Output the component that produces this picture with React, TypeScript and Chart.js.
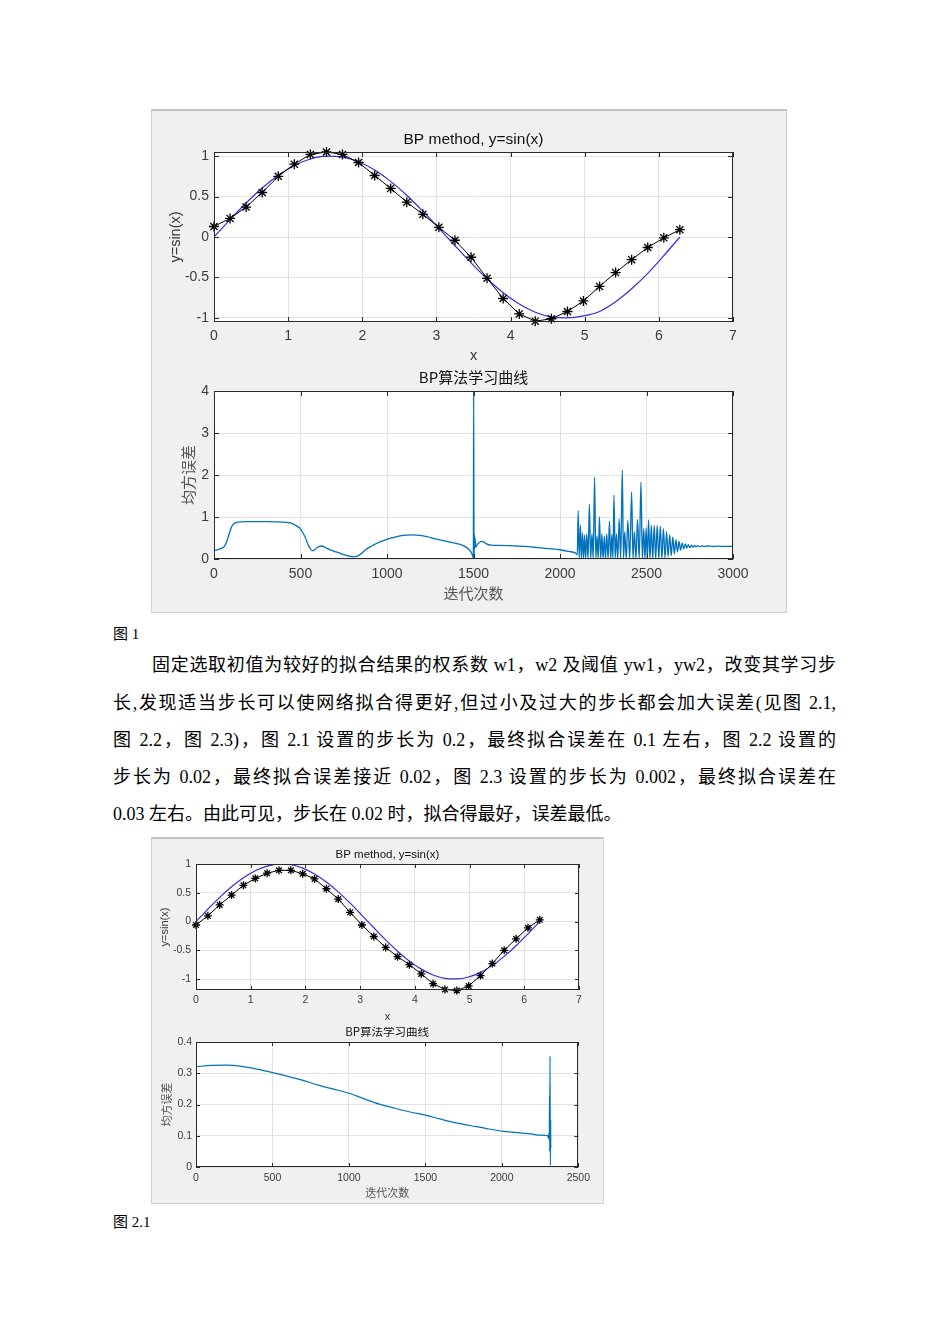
import React, { useEffect, useRef } from "react";
import { Chart, registerables } from "chart.js";
Chart.register(...registerables);

// ---------- data ----------
const sampleX = [0, 0.217, 0.433, 0.65, 0.867, 1.083, 1.3, 1.517, 1.733, 1.95, 2.167, 2.383, 2.6, 2.817, 3.033, 3.25, 3.467, 3.683, 3.9, 4.117, 4.333, 4.55, 4.767, 4.983, 5.2, 5.417, 5.633, 5.85, 6.067, 6.283];

const sineFig1 = [0, 0.215, 0.42, 0.605, 0.762, 0.884, 0.964, 0.998, 0.987, 0.929, 0.827, 0.687, 0.516, 0.319, 0.108, -0.108, -0.319, -0.516, -0.688, -0.827, -0.929, -0.987, -0.998, -0.975, -0.92, -0.8, -0.64, -0.45, -0.23, 0];
const netFig1 = [0.13, 0.23, 0.37, 0.55, 0.75, 0.9, 1.02, 1.05, 1.02, 0.92, 0.76, 0.6, 0.43, 0.28, 0.12, -0.04, -0.25, -0.51, -0.76, -0.95, -1.04, -1.01, -0.92, -0.79, -0.61, -0.44, -0.28, -0.13, -0.01, 0.09];

const sineFig2 = [0, 0.215, 0.42, 0.605, 0.762, 0.884, 0.964, 0.998, 0.987, 0.929, 0.827, 0.687, 0.516, 0.319, 0.108, -0.108, -0.319, -0.516, -0.688, -0.827, -0.929, -0.987, -0.998, -0.964, -0.884, -0.762, -0.605, -0.42, -0.215, 0];
const netFig2 = [-0.06, 0.1, 0.29, 0.46, 0.63, 0.75, 0.84, 0.89, 0.89, 0.83, 0.74, 0.57, 0.39, 0.16, -0.06, -0.26, -0.45, -0.61, -0.75, -0.91, -1.08, -1.18, -1.2, -1.12, -0.94, -0.73, -0.5, -0.3, -0.11, 0.03];

const iterFig1 = [0, 20, 44, 60, 73, 88, 102, 115, 131, 160, 189, 250, 305, 360, 420, 450, 468, 485, 497, 510, 526, 545, 556, 565, 575, 584, 595, 603, 622, 642, 665, 690, 720, 747, 770, 786, 805, 825, 845, 863, 880, 902, 930, 960, 1000, 1036, 1075, 1114, 1150, 1191, 1230, 1268, 1300, 1345, 1380, 1422, 1450, 1470, 1485, 1495, 1499, 1501, 1503, 1505, 1507, 1509, 1512, 1518, 1530, 1545, 1560, 1575, 1600, 1650, 1700, 1750, 1800, 1850, 1900, 1950, 2000, 2050, 2090,
  2100, 2105, 2111, 2118, 2124, 2130, 2136, 2142, 2148, 2155, 2162, 2170, 2177, 2185, 2192, 2200, 2207, 2214, 2221, 2228, 2235, 2242, 2249, 2256, 2263, 2270, 2278, 2286, 2293, 2300, 2306, 2312, 2319, 2326, 2334, 2342, 2351, 2360, 2367, 2374, 2383, 2392, 2403, 2414, 2422, 2430, 2439, 2448, 2458, 2468, 2476, 2484, 2491, 2498, 2505, 2512, 2520, 2528, 2536, 2545, 2553, 2562, 2571, 2580, 2589, 2598, 2607, 2616, 2625, 2634, 2643, 2652, 2661, 2670, 2679, 2688, 2697, 2706, 2715, 2724, 2733, 2742, 2751, 2760, 2769, 2778, 2787, 2796, 2805, 2820, 2840, 2860, 2880, 2910, 2950, 3000];
const errFig1 = [0.21, 0.22, 0.26, 0.3, 0.41, 0.6, 0.77, 0.84, 0.87, 0.885, 0.89, 0.89, 0.89, 0.885, 0.87, 0.85, 0.81, 0.77, 0.73, 0.65, 0.53, 0.33, 0.25, 0.21, 0.2, 0.23, 0.27, 0.29, 0.31, 0.28, 0.23, 0.19, 0.15, 0.11, 0.08, 0.06, 0.05, 0.06, 0.11, 0.17, 0.23, 0.29, 0.35, 0.41, 0.47, 0.51, 0.55, 0.57, 0.575, 0.56, 0.53, 0.49, 0.46, 0.42, 0.39, 0.35, 0.3, 0.24, 0.17, 0.08, 0.02, 4.0, 0.02, 0.6, 0.25, 0.5, 0.28, 0.32, 0.38, 0.42, 0.4, 0.36, 0.33, 0.325, 0.32, 0.31, 0.3, 0.28, 0.26, 0.24, 0.22, 0.18, 0.14,
  0.1, 1.15, 0, 0.8, 0, 0.62, 0, 0.57, 0, 0.6, 0, 1.3, 0, 0.6, 0, 1.95, 0, 0.55, 0, 1.0, 0, 0.6, 0, 0.55, 0, 0.6, 0, 0.9, 0, 0.58, 0, 1.52, 0, 0.6, 0, 0.95, 0, 2.12, 0, 0.65, 0, 0.92, 0, 1.6, 0, 0.65, 0, 0.94, 0, 1.83, 0, 0.72, 0, 0.74, 0, 0.93, 0, 0.8, 0, 0.8, 0, 0.8, 0, 0.78, 0.01, 0.72, 0.02, 0.65, 0.05, 0.58, 0.08, 0.52, 0.12, 0.46, 0.17, 0.42, 0.21, 0.38, 0.24, 0.36, 0.26, 0.34, 0.27, 0.33, 0.28, 0.32, 0.29, 0.32, 0.295, 0.31, 0.3, 0.31, 0.3, 0.305, 0.3, 0.3];

const iterFig2 = [0, 100, 200, 300, 400, 500, 600, 700, 800, 900, 1000, 1100, 1200, 1300, 1400, 1500, 1600, 1700, 1800, 1900, 2000, 2100, 2200, 2250, 2300, 2304, 2307, 2310, 2312, 2313, 2315, 2317, 2319, 2320];
const errFig2 = [0.321, 0.325, 0.326, 0.322, 0.313, 0.302, 0.29, 0.277, 0.262, 0.249, 0.236, 0.218, 0.201, 0.188, 0.176, 0.166, 0.153, 0.141, 0.132, 0.123, 0.115, 0.11, 0.105, 0.102, 0.1, 0.093, 0.108, 0.085, 0.23, 0.05, 0.355, 0.006, 0.15, 0.06];

const paraLines = [
  "固定选取初值为较好的拟合结果的权系数 w1，w2 及阈值 yw1，yw2，改变其学习步",
  "长,发现适当步长可以使网络拟合得更好,但过小及过大的步长都会加大误差(见图 2.1,",
  "图 2.2，图 2.3)，图 2.1 设置的步长为 0.2，最终拟合误差在 0.1 左右，图 2.2 设置的",
  "步长为 0.02，最终拟合误差接近 0.02，图 2.3 设置的步长为 0.002，最终拟合误差在",
  "0.03 左右。由此可见，步长在 0.02 时，拟合得最好，误差最低。",
];

// ---------- helpers ----------
const pts = (xs: number[], ys: number[]) => xs.map((x, i) => ({ x, y: ys[i] }));
const LAT = '"Liberation Sans", Arial, "Noto Sans CJK SC", sans-serif';
const CJK = '"Noto Sans CJK SC", "Liberation Sans", sans-serif';
const TXT = '"Liberation Serif", "Noto Sans CJK SC", serif';

const matlabAxes = {
  id: "matlabAxes",
  beforeDraw(chart: any) {
    const { ctx, chartArea: a } = chart;
    ctx.save();
    ctx.fillStyle = "#ffffff";
    ctx.fillRect(a.left, a.top, a.right - a.left, a.bottom - a.top);
    ctx.restore();
  },
  afterDraw(chart: any, _args: any, opts: any) {
    const { ctx, chartArea: a, scales } = chart;
    ctx.save();
    ctx.strokeStyle = "#2a2a2a";
    ctx.lineWidth = 1;
    ctx.strokeRect(Math.round(a.left) + 0.5, Math.round(a.top) + 0.5, Math.round(a.right - a.left) - 1, Math.round(a.bottom - a.top) - 1);
    const L = opts.tickLen || 5;
    ctx.beginPath();
    scales.x.ticks.forEach((t: any) => {
      const px = Math.round(scales.x.getPixelForValue(t.value)) + 0.5;
      ctx.moveTo(px, a.bottom); ctx.lineTo(px, a.bottom - L);
      ctx.moveTo(px, a.top); ctx.lineTo(px, a.top + L);
    });
    scales.y.ticks.forEach((t: any) => {
      const py = Math.round(scales.y.getPixelForValue(t.value)) + 0.5;
      ctx.moveTo(a.left, py); ctx.lineTo(a.left + L, py);
      ctx.moveTo(a.right, py); ctx.lineTo(a.right - L, py);
    });
    ctx.stroke();
    ctx.fillStyle = opts.titleColor || "#111";
    ctx.font = opts.titleFont;
    ctx.textAlign = "center";
    ctx.textBaseline = "middle";
    ctx.fillText(opts.title, (a.left + a.right) / 2, a.top - opts.titleGap);
    ctx.restore();
  },
};

type Rect = { left: number; top: number; width: number; height: number };
type Area = { left: number; top: number; right: number; bottom: number };
type AxSpec = {
  rect: Rect; area: Area;
  xMin: number; xMax: number; xStep: number;
  yMin: number; yMax: number; yStep: number;
  datasets: any[];
  title: string; titleFont: string; titleGap: number;
  xTitle: string; yTitle: string; axTitleFamily: string; axTitleSize: number; axTitleColor: string;
  tickSize: number; xTickPad: number; yTickPad: number;
  xTitlePad: number; yTitlePad: number; tickLen: number;
};

function Axes({ spec }: { spec: AxSpec }) {
  const ref = useRef<HTMLCanvasElement>(null);
  useEffect(() => {
    const s = spec;
    const padTop = s.area.top - s.rect.top;
    const padRight = s.rect.left + s.rect.width - s.area.right;
    const yW = s.area.left - s.rect.left;
    const xH = s.rect.top + s.rect.height - s.area.bottom;
    const fmt = (v: any) => String(Math.round(Number(v) * 1000) / 1000);
    const chart = new Chart(ref.current as HTMLCanvasElement, {
      type: "line",
      data: { datasets: s.datasets },
      options: {
        responsive: false,
        animation: false,
        devicePixelRatio: 1,
        layout: { padding: { top: padTop, right: padRight, left: 0, bottom: 0 } },
        plugins: {
          legend: { display: false },
          tooltip: { enabled: false },
          title: { display: false },
          matlabAxes: { title: s.title, titleFont: s.titleFont, titleGap: s.titleGap, tickLen: s.tickLen },
        } as any,
        scales: {
          x: {
            type: "linear", min: s.xMin, max: s.xMax,
            afterFit: (sc: any) => { sc.height = xH; },
            ticks: { stepSize: s.xStep, autoSkip: false, maxRotation: 0, includeBounds: false, padding: s.xTickPad, color: "#3c3c3c", font: { family: LAT, size: s.tickSize }, callback: fmt },
            grid: { color: "#e2e2e2", drawTicks: false },
            border: { display: false },
            title: { display: true, text: s.xTitle, color: s.axTitleColor, font: { family: s.axTitleFamily, size: s.axTitleSize }, padding: { top: 0, bottom: s.xTitlePad } },
          },
          y: {
            type: "linear", min: s.yMin, max: s.yMax,
            afterFit: (sc: any) => { sc.width = yW; },
            ticks: { stepSize: s.yStep, autoSkip: false, includeBounds: false, padding: s.yTickPad, color: "#3c3c3c", font: { family: LAT, size: s.tickSize }, callback: fmt },
            grid: { color: "#e2e2e2", drawTicks: false },
            border: { display: false },
            title: { display: true, text: s.yTitle, color: s.axTitleColor, font: { family: s.axTitleFamily, size: s.axTitleSize }, padding: { top: s.yTitlePad, bottom: 0 } },
          },
        },
      } as any,
      plugins: [matlabAxes as any],
    });
    return () => chart.destroy();
  }, []);
  const r = spec.rect;
  return (
    <canvas
      ref={ref}
      width={r.width}
      height={r.height}
      style={{ position: "absolute", left: r.left, top: r.top, width: r.width, height: r.height }}
    />
  );
}

const starSet = (ys: number[], radius: number) => ({
  data: pts(sampleX, ys),
  borderColor: "#000000",
  borderWidth: 1,
  pointStyle: "star",
  pointRadius: radius,
  pointBorderColor: "#000000",
  pointBackgroundColor: "#000000",
  pointBorderWidth: 1.3,
  tension: 0,
  clip: false,
});
const sineSet = (ys: number[]) => ({
  data: pts(sampleX, ys),
  borderColor: "#2f2fe0",
  borderWidth: 1.2,
  pointRadius: 0,
  cubicInterpolationMode: "monotone",
});
const errSet = (xs: number[], ys: number[], w: number) => ({
  data: pts(xs, ys),
  borderColor: "#0072BD",
  borderWidth: w,
  pointRadius: 0,
  cubicInterpolationMode: "monotone",
});

const fig1Top: AxSpec = {
  rect: { left: 155, top: 118, width: 625, height: 252 },
  area: { left: 214, top: 152, right: 733, bottom: 322 },
  xMin: 0, xMax: 7, xStep: 1, yMin: -1.05, yMax: 1.05, yStep: 0.5,
  datasets: [starSet(netFig1, 5), sineSet(sineFig1)],
  title: "BP method, y=sin(x)", titleFont: `15.5px ${LAT}`, titleGap: 12,
  xTitle: "x", yTitle: "y=sin(x)", axTitleFamily: LAT, axTitleSize: 14.5, axTitleColor: "#333",
  tickSize: 14, xTickPad: 6, yTickPad: 5, xTitlePad: 5, yTitlePad: 12, tickLen: 5,
};
const fig1Bot: AxSpec = {
  rect: { left: 155, top: 370, width: 625, height: 238 },
  area: { left: 214, top: 391, right: 733, bottom: 559 },
  xMin: 0, xMax: 3000, xStep: 500, yMin: 0, yMax: 4, yStep: 1,
  datasets: [errSet(iterFig1, errFig1, 1.3)],
  title: "BP算法学习曲线", titleFont: `15px ${CJK}`, titleGap: 14,
  xTitle: "迭代次数", yTitle: "均方误差", axTitleFamily: CJK, axTitleSize: 15, axTitleColor: "#555",
  tickSize: 14, xTickPad: 7, yTickPad: 5, xTitlePad: 6, yTitlePad: 24, tickLen: 5,
};
const fig2Top: AxSpec = {
  rect: { left: 155, top: 842, width: 440, height: 185 },
  area: { left: 196, top: 864, right: 579, bottom: 990 },
  xMin: 0, xMax: 7, xStep: 1, yMin: -1.19, yMax: 1, yStep: 0.5,
  datasets: [starSet(netFig2, 4), sineSet(sineFig2)],
  title: "BP method, y=sin(x)", titleFont: `11.5px ${LAT}`, titleGap: 9,
  xTitle: "x", yTitle: "y=sin(x)", axTitleFamily: LAT, axTitleSize: 11, axTitleColor: "#333",
  tickSize: 10.5, xTickPad: 4, yTickPad: 5, xTitlePad: 3.4, yTitlePad: 3, tickLen: 4,
};
const fig2Bot: AxSpec = {
  rect: { left: 155, top: 1027, width: 440, height: 173 },
  area: { left: 196, top: 1042, right: 579, bottom: 1167 },
  xMin: 0, xMax: 2500, xStep: 500, yMin: 0, yMax: 0.4, yStep: 0.1,
  datasets: [errSet(iterFig2, errFig2, 1.2)],
  title: "BP算法学习曲线", titleFont: `11.5px ${CJK}`, titleGap: 10,
  xTitle: "迭代次数", yTitle: "均方误差", axTitleFamily: CJK, axTitleSize: 11, axTitleColor: "#555",
  tickSize: 10.5, xTickPad: 5, yTickPad: 4, xTitlePad: 0.5, yTitlePad: 5, tickLen: 4,
};

const figBox = (left: number, top: number, right: number, bottom: number): React.CSSProperties => ({
  position: "absolute",
  left,
  top,
  width: right - left,
  height: bottom - top,
  boxSizing: "border-box",
  background: "#f0f0f0",
  borderLeft: "1px solid #d2d2d2",
  borderRight: "1px solid #d2d2d2",
  borderBottom: "1px solid #d2d2d2",
  borderTop: "2px solid #c4c4c4",
});

const lineTops = [665, 703, 740, 777, 814];

export default function App() {
  return (
    <div style={{ position: "absolute", left: 0, top: 0, width: 950, height: 1344, background: "#fff", overflow: "hidden" }}>
      <div style={figBox(151, 109, 787, 613)} />
      <Axes spec={fig1Top} />
      <Axes spec={fig1Bot} />
      <div style={{ position: "absolute", left: 113, top: 623, fontFamily: TXT, fontSize: 15, lineHeight: "22px", color: "#000" }}>图 1</div>
      {paraLines.map((t, i) => {
        const left = i === 0 ? 152 : 113;
        const justify = i < 4;
        return (
          <div
            key={i}
            style={{
              position: "absolute",
              left,
              top: lineTops[i] - 12,
              width: 836 - left,
              fontFamily: TXT,
              fontSize: 18,
              lineHeight: "24px",
              color: "#000",
              whiteSpace: "pre",
              textAlign: justify ? "justify" : "left",
              textAlignLast: justify ? "justify" : "left",
            } as React.CSSProperties}
          >
            {t}
          </div>
        );
      })}
      <div style={figBox(151, 837, 604, 1204)} />
      <Axes spec={fig2Top} />
      <Axes spec={fig2Bot} />
      <div style={{ position: "absolute", left: 113, top: 1211, fontFamily: TXT, fontSize: 15, lineHeight: "22px", color: "#000" }}>图 2.1</div>
    </div>
  );
}
